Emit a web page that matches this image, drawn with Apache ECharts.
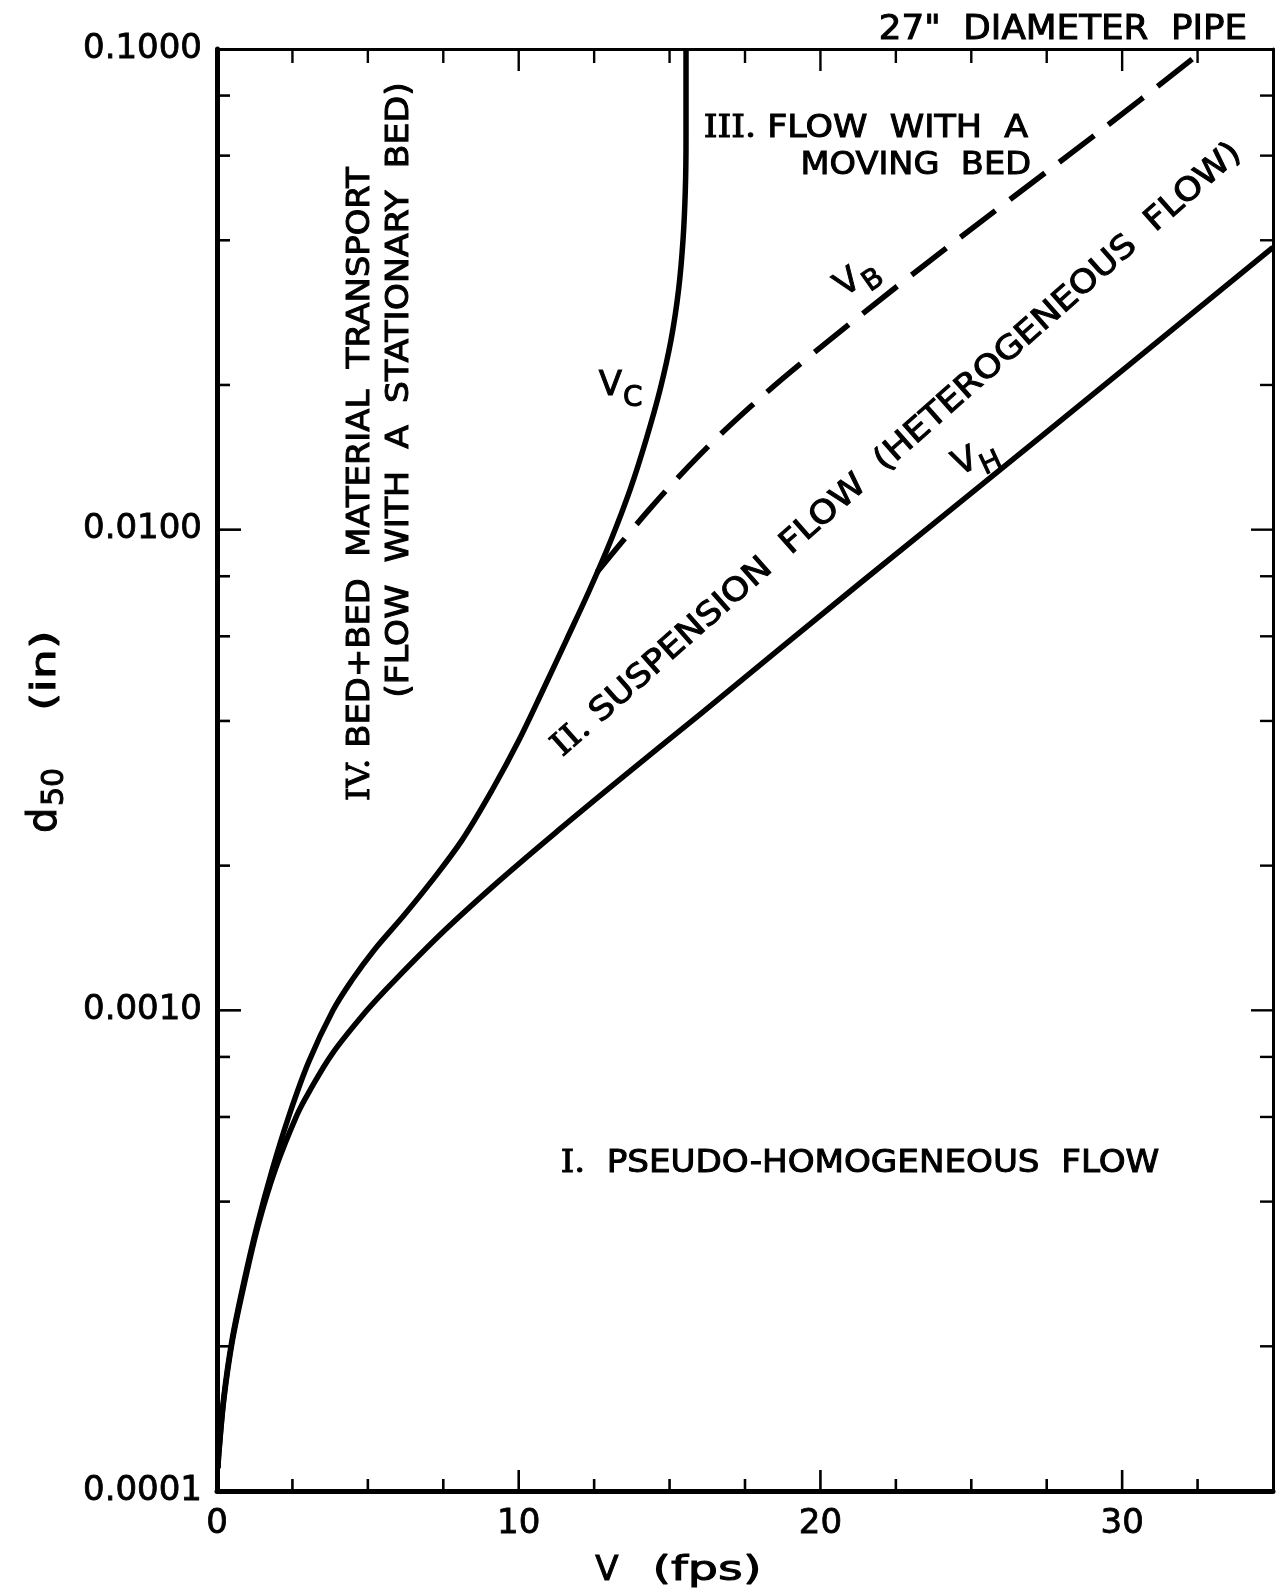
<!DOCTYPE html>
<html>
<head>
<meta charset="utf-8">
<script src="https://cdn.jsdelivr.net/npm/echarts@6/dist/echarts.min.js"></script>
<style>
  html, body { margin: 0; padding: 0; background: #fff; }
  #chart { width: 1284px; height: 1593px; }
</style>
</head>
<body>
<div id="chart"></div>
<script>
// Regime boundaries for a 27" pipe: velocity V (fps) against median grain size d50 (in).

// V_C : limit of stationary deposit
const vcVelocity = [0.033, 0.056, 0.222, 0.497, 0.885, 1.326, 1.84, 2.396, 3.039, 3.845, 4.475, 5.204, 6.198, 7.093, 8.121, 9.115, 10.01, 10.805, 11.584, 12.347, 13.059, 13.689, 14.219, 14.683, 15.048, 15.297, 15.446, 15.522, 15.545, 15.545];
const vcD50 = [0.0001116, 0.000119, 0.000156, 0.000206, 0.000271, 0.000356, 0.000468, 0.000606, 0.000781, 0.001, 0.001156, 0.001334, 0.001577, 0.00185, 0.00226, 0.00287, 0.00365, 0.00464, 0.0059, 0.00749, 0.00952, 0.0121, 0.01537, 0.01953, 0.0248, 0.0315, 0.0401, 0.0509, 0.0647, 0.1];

// V_B : limit of moving bed
const vbVelocity = [12.595, 14.352, 16.009, 17.667, 19.324, 22.638, 25.953, 29.268, 32.75];
const vbD50 = [0.008154, 0.01106, 0.01433, 0.01799, 0.0221, 0.03243, 0.0469, 0.06748, 0.1];

// V_H : limit of heterogeneous (suspension) flow
const vhVelocity = [0.033, 0.056, 0.232, 0.514, 0.911, 1.359, 1.939, 2.652, 3.049, 3.812, 4.97, 5.9, 7.557, 9.38, 11.319, 13.324, 16.009, 21.31, 27.28, 35];
const vhD50 = [0.0001116, 0.000119, 0.000156, 0.000206, 0.000271, 0.000356, 0.000468, 0.000606, 0.000676, 0.000811, 0.001, 0.001156, 0.001469, 0.001866, 0.00237, 0.003012, 0.00413, 0.007736, 0.015553, 0.03866];

// Axis ranges and tick positions
const xRange = [0, 35];
const yRange = [0.0001, 0.1];
const xLabelValues = [0, 10, 20, 30];
const xTickValues = [2.5, 5, 7.5, 10, 12.5, 15, 17.5, 20, 22.5, 25, 27.5, 30, 32.5];
const yTickValues = [0.0002, 0.0004, 0.0006, 0.0008, 0.001, 0.002, 0.004, 0.006, 0.008, 0.01, 0.02, 0.04, 0.06, 0.08];

const FONT = '"DejaVu Sans", "Liberation Sans", sans-serif';
const SERIF = '"DejaVu Serif", "Liberation Serif", serif';
const INK = '#000';

const pairs = (xs, ys) => xs.map((x, i) => [x, ys[i]]);

function isDecade(v) {
  const l = Math.log10(v);
  return Math.abs(l - Math.round(l)) < 1e-6;
}

// Inward tick marks on all four sides, placed through the axes' own scales
const tickLine = (x1, y1, x2, y2, w) => ({
  type: 'line', shape: { x1, y1, x2, y2 }, style: { stroke: INK, lineWidth: w }
});

const xTicks = {
  type: 'custom', silent: true, z: 6, clip: false,
  data: xTickValues.map(v => [v, yRange[0]]),
  renderItem(params, api) {
    const v = api.value(0);
    const major = v % 10 === 0;
    const b = api.coord([v, yRange[0]]);
    const t = api.coord([v, yRange[1]]);
    return {
      type: 'group',
      children: [
        tickLine(b[0], b[1], b[0], b[1] - (major ? 21 : 12), 2.6),
        tickLine(t[0], t[1], t[0], t[1] + (major ? 22 : 14), 2.4)
      ]
    };
  }
};

const yTicks = {
  type: 'custom', silent: true, z: 6, clip: false,
  data: yTickValues.map(v => [xRange[0], v]),
  renderItem(params, api) {
    const v = api.value(1);
    const major = isDecade(v);
    const l = api.coord([xRange[0], v]);
    const r = api.coord([xRange[1], v]);
    return {
      type: 'group',
      children: [
        tickLine(l[0], l[1], l[0] + (major ? 24 : 13), l[1], 2.6),
        tickLine(r[0], r[1], r[0] - (major ? 22 : 13), r[1], 2.4)
      ]
    };
  }
};

function curve(name, xs, ys, dashed) {
  return {
    name, type: 'line', data: pairs(xs, ys),
    showSymbol: false, symbol: 'none', smooth: 0.35, z: 4,
    lineStyle: { color: INK, width: 5.5, type: dashed ? [44, 18] : 'solid', cap: 'butt', join: 'round' },
    emphasis: { disabled: true }
  };
}

// Text helpers
function text(str, x, y, o = {}) {
  return {
    type: 'text', x, y, z: 10,
    rotation: (o.rot || 0) * Math.PI / 180,
    scaleX: o.sx || 1,
    style: {
      text: str, fill: INK, stroke: INK, lineWidth: 1,
      fontSize: o.size || 32, fontFamily: FONT, fontWeight: 'normal',
      align: o.align || 'center', verticalAlign: 'middle',
      textAlign: o.align || 'center', textVerticalAlign: 'middle',
      rich: o.rich
    }
  };
}
const romanRich = { r: { fontFamily: SERIF, fontSize: 32, fontWeight: 'normal' } };

// Symbol with subscript, e.g. V_C; drawn in a (possibly rotated) group
function subscripted(main, sub, x, y, rot, drop) {
  return {
    type: 'group', x, y, rotation: (rot || 0) * Math.PI / 180,
    children: [
      text(main, 0, 0, { size: 34, align: 'right' }),
      text(sub, 1, drop, { size: 28, align: 'left' })
    ]
  };
}

const graphics = [
  text('27"  DIAMETER  PIPE', 1063, 30, { size: 34, sx: 1.05 }),

  text('{r|III.} FLOW  WITH  A', 1028, 129, { align: 'right', rich: romanRich, sx: 1.09 }),
  text('MOVING  BED', 1031, 166, { align: 'right', sx: 1.05 }),

  text('{r|IV.} BED+BED  MATERIAL  TRANSPORT', 361, 484, { rot: 90, rich: romanRich, sx: 1.056 }),
  text('(FLOW  WITH  A  STATIONARY  BED)', 400, 390, { rot: 90, sx: 1.083 }),

  text('{r|II.} SUSPENSION  FLOW  (HETEROGENEOUS  FLOW)', 897, 450, { rot: 41.5, rich: romanRich, sx: 1.12 }),

  text('{r|I.}  PSEUDO-HOMOGENEOUS  FLOW', 860, 1164, { rich: romanRich, sx: 1.067 }),

  subscripted('V', 'C', 622, 386, 0, 13),
  subscripted('V', 'B', 858, 277, 35, 12),
  subscripted('V', 'H', 976, 458, 25, 12),

  // axis titles
  text('V', 607, 1571, { size: 34 }),
  text('(fps)', 707, 1571, { size: 34, sx: 1.4 }),
  {
    type: 'group', x: 46, y: 833, rotation: Math.PI / 2,
    children: [
      text('d', 0, 0, { size: 40, align: 'left' }),
      text('50', 27, 9, { size: 30, align: 'left' }),
      text('(in)', 122, 0, { size: 34, align: 'left', sx: 1.4 })
    ]
  }
];

const labelStyle = {
  color: INK, fontSize: 34, fontFamily: FONT,
  textBorderColor: INK, textBorderWidth: 0.8
};

const option = {
  animation: false,
  backgroundColor: '#fff',
  grid: { left: 217, top: 49, right: 11, bottom: 102, containLabel: false },
  xAxis: [
    {
      type: 'value', min: xRange[0], max: xRange[1], interval: 10,
      axisLine: { show: true, onZero: false, lineStyle: { color: INK, width: 5 } },
      axisTick: { show: false }, splitLine: { show: false },
      axisLabel: {
        ...labelStyle, margin: 16,
        formatter: v => (xLabelValues.includes(v) ? String(v) : '')
      }
    },
    {
      type: 'value', position: 'top', min: xRange[0], max: xRange[1],
      axisLine: { show: true, onZero: false, lineStyle: { color: INK, width: 3 } },
      axisTick: { show: false }, axisLabel: { show: false }, splitLine: { show: false }
    }
  ],
  yAxis: [
    {
      type: 'log', logBase: 10, min: yRange[0], max: yRange[1],
      axisLine: { show: true, onZero: false, lineStyle: { color: INK, width: 5 } },
      axisTick: { show: false }, splitLine: { show: false }, minorSplitLine: { show: false },
      axisLabel: { ...labelStyle, margin: 15, formatter: v => Number(v).toFixed(4) }
    },
    {
      type: 'log', logBase: 10, position: 'right', min: yRange[0], max: yRange[1],
      axisLine: { show: true, onZero: false, lineStyle: { color: INK, width: 3 } },
      axisTick: { show: false }, axisLabel: { show: false }, splitLine: { show: false }
    }
  ],
  series: [
    curve('V_C', vcVelocity, vcD50, false),
    curve('V_B', vbVelocity, vbD50, true),
    curve('V_H', vhVelocity, vhD50, false),
    xTicks,
    yTicks
  ],
  graphic: graphics
};

const chart = echarts.init(document.getElementById('chart'), null, { renderer: 'canvas' });
chart.setOption(option);
</script>
</body>
</html>
